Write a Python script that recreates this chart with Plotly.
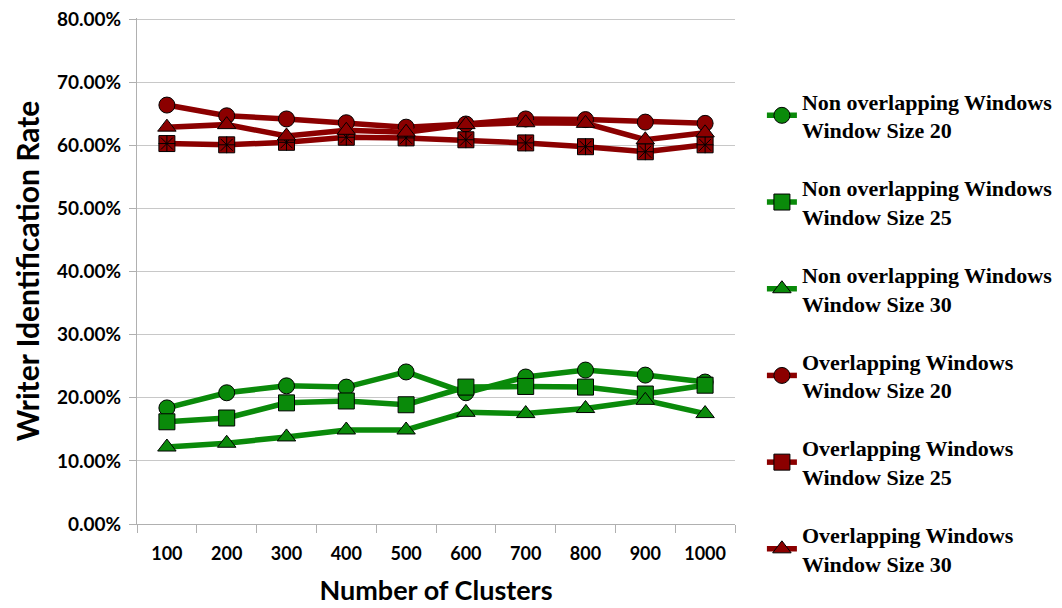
import plotly.graph_objects as go

clusters = ["100", "200", "300", "400", "500", "600", "700", "800", "900", "1000"]

non_ov_20 = [0.184, 0.208, 0.219, 0.217, 0.241, 0.208, 0.233, 0.244, 0.236, 0.225]
non_ov_25 = [0.162, 0.168, 0.192, 0.195, 0.189, 0.217, 0.218, 0.217, 0.206, 0.220]
non_ov_30 = [0.122, 0.128, 0.138, 0.149, 0.149, 0.177, 0.175, 0.183, 0.196, 0.175]
ov_20 = [0.664, 0.647, 0.642, 0.636, 0.629, 0.634, 0.642, 0.641, 0.637, 0.635]
ov_25 = [0.603, 0.601, 0.605, 0.613, 0.612, 0.609, 0.604, 0.598, 0.590, 0.601]
ov_30 = [0.629, 0.633, 0.615, 0.624, 0.621, 0.633, 0.636, 0.635, 0.609, 0.620]

y_ticks = [0, 0.1, 0.2, 0.3, 0.4, 0.5, 0.6, 0.7, 0.8]

names = [
    "Non overlapping Windows<br>Window Size 20",
    "Non overlapping Windows<br>Window Size 25",
    "Non overlapping Windows<br>Window Size 30",
    "Overlapping Windows<br>Window Size 20",
    "Overlapping Windows<br>Window Size 25",
    "Overlapping Windows<br>Window Size 30",
]
series = [non_ov_20, non_ov_25, non_ov_30, ov_20, ov_25, ov_30]
GREEN = "#0a8a0a"
RED = "#8b0000"
colors = [GREEN, GREEN, GREEN, RED, RED, RED]
symbols = ["circle", "square", "triangle-up", "circle", "square", "triangle-up"]

fig = go.Figure()
for i, (nm, vals, col, sym) in enumerate(zip(names, series, colors, symbols)):
    fig.add_trace(go.Scatter(
        x=clusters, y=vals, name=nm, mode="lines+markers",
        legendgroup=f"g{i}",
        line=dict(color=col, width=5.5),
        marker=dict(symbol=sym, size=16, color=col, line=dict(color="black", width=1)),
    ))
    if i == 4:
        fig.add_trace(go.Scatter(
            x=clusters, y=vals, mode="markers", showlegend=False,
            legendgroup=f"g{i}", hoverinfo="skip",
            marker=dict(symbol="asterisk-open", size=14, color="black",
                        line=dict(color="black", width=1)),
        ))

# page body has an 8px margin, so margins are offset by 8px
fig.update_layout(
    width=1062, height=608,
    margin=dict(l=129, r=335, t=10, b=92),
    plot_bgcolor="white", paper_bgcolor="white",
    showlegend=True,
    legend=dict(
        x=1.045, xanchor="left", y=0.877, yanchor="top",
        font=dict(family="Liberation Serif", size=22, color="black", weight="bold"),
        tracegroupgap=26.5, itemwidth=30,
    ),
    font=dict(family="Lato", color="black"),
)
fig.update_yaxes(
    range=[0, 0.802], tickvals=y_ticks,
    tickformat=".2%", automargin=False, ticklabeloverflow="allow",
    showgrid=True, gridcolor="#c8c8c8", gridwidth=1,
    showline=True, linecolor="#b0b0b0", linewidth=1,
    ticks="outside", ticklen=7, tickcolor="#b0b0b0", ticklabelstandoff=4,
    tickfont=dict(family="Lato", size=19, color="black", weight="bold"),
    title=dict(text="<b>Writer Identification Rate</b>", font=dict(family="Lato", size=30, color="black"), standoff=8),
    zeroline=False,
)
fig.update_xaxes(
    type="category", automargin=False, range=[-0.5, 9.5],
    showgrid=False,
    showline=True, linecolor="#b0b0b0", linewidth=1,
    ticks="outside", ticklen=8, tickcolor="#b0b0b0", tickson="boundaries",
    ticklabelstandoff=13,
    tickfont=dict(family="Lato", size=18, color="black", weight="bold"),
    title=dict(text="<b>Number of Clusters</b>", font=dict(family="Lato", size=27, color="black"), standoff=18),
)

fig.write_html("out.html")
